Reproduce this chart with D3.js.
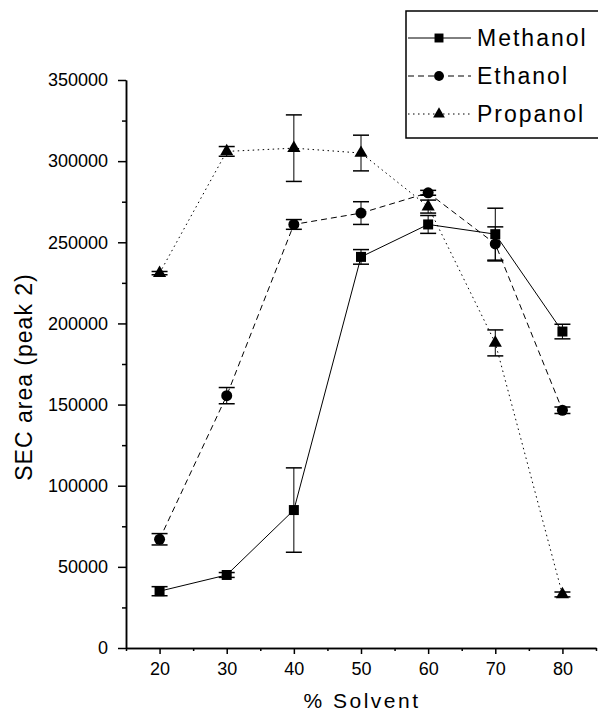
<!DOCTYPE html>
<html>
<head>
<meta charset="utf-8">
<script src="https://cdn.jsdelivr.net/npm/d3@7"></script>
<style>
  body { margin: 0; background: #fff; }
  text { font-family: "Liberation Sans", Arial, sans-serif; fill: #000; }
  .eixo path, .eixo line { stroke: #000; stroke-width: 1.5px; }
  .eixo text { font-size: 18px; }
</style>
</head>
<body>
<svg id="grafico"></svg>
<script>
//Chart data
var solvente = [20, 30, 40, 50, 60, 70, 80];
var metanol = [35000, 45000, 85000, 241000, 261000, 255000, 195000];
var metanolErro = [2800, 1500, 26000, 4500, 5500, 16000, 4500];
var etanol = [67000, 155500, 261000, 268000, 280500, 249000, 146500];
var etanolErro = [3500, 5000, 3000, 7000, 1500, 10500, 2000];
var propanol = [231000, 306000, 308000, 305000, 272000, 188000, 33000];
var propanolErro = [1000, 3000, 20500, 11000, 4000, 8000, 1500];
var ticksX = [20, 30, 40, 50, 60, 70, 80];
var ticksY = [0, 50000, 100000, 150000, 200000, 250000, 300000, 350000];
var nomesSeries = ['Methanol', 'Ethanol', 'Propanol'];

var largura = 598, altura = 712;

var svg = d3.select('#grafico')
            .attr('width', largura)
            .attr('height', altura);

//Scales
var x = d3.scaleLinear().domain([15, 85]).range([126, 596]);
var y = d3.scaleLinear().domain([0, 350000]).range([648, 80]);

//Minor ticks
var menoresX = d3.range(15, 86, 5).filter(v => ticksX.indexOf(v) < 0);
var menoresY = d3.range(25000, 350000, 50000);

svg.append('g')
   .attr('class', 'eixo')
   .attr('transform', 'translate(0,' + y(0) + ')')
   .call(d3.axisBottom(x).tickValues(menoresX).tickSize(3).tickFormat('').tickSizeOuter(0));

svg.append('g')
   .attr('class', 'eixo')
   .attr('transform', 'translate(0,' + y(0) + ')')
   .call(d3.axisBottom(x).tickValues(ticksX).tickSize(6).tickPadding(8).tickSizeOuter(0));

svg.append('g')
   .attr('class', 'eixo')
   .attr('transform', 'translate(' + x(15) + ',0)')
   .call(d3.axisLeft(y).tickValues(menoresY).tickSize(4).tickFormat('').tickSizeOuter(0));

svg.append('g')
   .attr('class', 'eixo')
   .attr('transform', 'translate(' + x(15) + ',0)')
   .call(d3.axisLeft(y).tickValues(ticksY).tickSize(8).tickPadding(10).tickSizeOuter(0)
           .tickFormat(d3.format('d')));

//Axis titles
svg.append('text')
   .attr('transform', 'translate(32,377) rotate(-90)')
   .style('text-anchor', 'middle')
   .style('font-size', '23px')
   .style('letter-spacing', '1px')
   .text('SEC area (peak 2)');

svg.append('text')
   .attr('x', 362)
   .attr('y', 708)
   .style('text-anchor', 'middle')
   .style('font-size', '21px')
   .style('letter-spacing', '2.5px')
   .text('% Solvent');

//Series
var series = [
  { nome: nomesSeries[0], valores: metanol, erros: metanolErro, simbolo: d3.symbolSquare, tamanho: 100, tracejado: null },
  { nome: nomesSeries[1], valores: etanol, erros: etanolErro, simbolo: d3.symbolCircle, tamanho: 95, tracejado: '6,4' },
  { nome: nomesSeries[2], valores: propanol, erros: propanolErro, simbolo: d3.symbolTriangle, tamanho: 75, tracejado: '1.5,3.5' }
];

var linha = d3.line()
              .x(d => x(d.x))
              .y(d => y(d.y));

series.forEach(function(s) {
  var pontos = solvente.map((v, i) => ({ x: v, y: s.valores[i], e: s.erros[i] }));
  var g = svg.append('g');

  g.append('path')
   .datum(pontos)
   .attr('d', linha)
   .attr('fill', 'none')
   .attr('stroke', '#000')
   .attr('stroke-width', 1)
   .attr('stroke-dasharray', s.tracejado);

  //Error bars
  var barras = g.selectAll('.erro').data(pontos).enter().append('g').classed('erro', true);
  barras.append('line')
        .attr('x1', d => x(d.x)).attr('x2', d => x(d.x))
        .attr('y1', d => y(d.y + d.e)).attr('y2', d => y(d.y - d.e))
        .attr('stroke', '#000').attr('stroke-width', 1);
  barras.append('line')
        .attr('x1', d => x(d.x) - 8).attr('x2', d => x(d.x) + 8)
        .attr('y1', d => y(d.y + d.e)).attr('y2', d => y(d.y + d.e))
        .attr('stroke', '#000').attr('stroke-width', 1.5);
  barras.append('line')
        .attr('x1', d => x(d.x) - 8).attr('x2', d => x(d.x) + 8)
        .attr('y1', d => y(d.y - d.e)).attr('y2', d => y(d.y - d.e))
        .attr('stroke', '#000').attr('stroke-width', 1.5);

  g.selectAll('.marca').data(pontos).enter()
   .append('path')
   .classed('marca', true)
   .attr('d', d3.symbol().type(s.simbolo).size(s.tamanho))
   .attr('transform', d => 'translate(' + x(d.x) + ',' + y(d.y) + ')')
   .attr('fill', '#000');
});

//Legend
var legenda = svg.append('g');
legenda.append('rect')
       .attr('x', 406).attr('y', 11)
       .attr('width', 210).attr('height', 127)
       .attr('fill', '#fff')
       .attr('stroke', '#000')
       .attr('stroke-width', 1.5);

series.forEach(function(s, i) {
  var ly = 38 + i * 38;
  legenda.append('line')
         .attr('x1', 408).attr('x2', 471)
         .attr('y1', ly).attr('y2', ly)
         .attr('stroke', '#000').attr('stroke-width', 1)
         .attr('stroke-dasharray', s.tracejado);
  legenda.append('path')
         .attr('d', d3.symbol().type(s.simbolo).size(s.tamanho * 0.8))
         .attr('transform', 'translate(439,' + ly + ')')
         .attr('fill', '#000');
  legenda.append('text')
         .attr('x', 477)
         .attr('y', ly + 8)
         .style('font-size', '23px')
         .style('letter-spacing', '2px')
         .text(s.nome);
});
</script>
</body>
</html>
